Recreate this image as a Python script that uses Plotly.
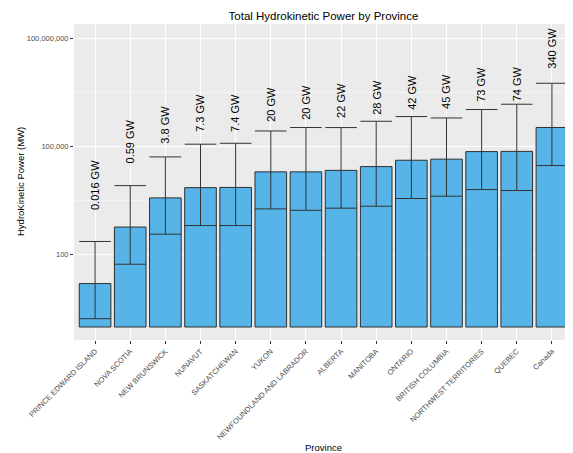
import numpy as np
import plotly.graph_objects as go

provinces = ["PRINCE EDWARD ISLAND", "NOVA SCOTIA", "NEW BRUNSWICK", "NUNAVUT",
             "SASKATCHEWAN", "YUKON", "NEWFOUNDLAND AND LABRADOR", "ALBERTA",
             "MANITOBA", "ONTARIO", "BRITISH COLUMBIA", "NORTHWEST TERRITORIES",
             "QUEBEC", "Canada"]
power_mw = [16, 590, 3800, 7300, 7400, 20000, 20000, 22000, 28000, 42000,
            45000, 73000, 74000, 340000]
lower_mw = [1.7, 55, 374, 650, 650, 1880, 1720, 1970, 2230, 3650,
            4230, 6460, 6080, 29900]
upper_mw = [235, 8300, 51900, 117000, 124000, 272000, 339000, 338000, 506000,
            682000, 624000, 1070000, 1500000, 5710000]
labels = ["0.016 GW", "0.59 GW", "3.8 GW", "7.3 GW", "7.4 GW", "20 GW", "20 GW",
          "22 GW", "28 GW", "42 GW", "45 GW", "73 GW", "74 GW", "340 GW"]
label_at_mw = [1550, 30500, 109000, 220000, 220000, 437000, 500000, 537000,
               661000, 912000, 977000, 1550000, 1620000, 13100000]

y_tickvals = [100, 100000, 100000000]
y_ticktext = ["100", "100,000", "100,000,000"]

FONT = "Liberation Sans, Arial, Helvetica, sans-serif"

# page body has an 8px margin: figure is drawn at (8, 8)
W, H = 565, 445
ML, MT, MB = 66, 16, 113
PW, PH = W - ML, H - MT - MB

fig = go.Figure()
fig.add_trace(go.Bar(
    x=provinces,
    y=[m - 1 for m in power_mw],
    base=1,
    width=0.9,
    marker=dict(color="#56B4E9", line=dict(color="#2f2f2f", width=1)),
    error_y=dict(type="data", symmetric=False,
                 array=[u - m for u, m in zip(upper_mw, power_mw)],
                 arrayminus=[m - l for m, l in zip(power_mw, lower_mw)],
                 color="#333333", thickness=1, width=15.8),
    showlegend=False,
))

annotations = []
for p, lab, pos in zip(provinces, labels, label_at_mw):
    annotations.append(dict(x=p, y=np.log10(pos), xref="x", yref="y", text=lab,
                            textangle=-90, showarrow=False, xanchor="center",
                            yanchor="bottom", font=dict(size=11, color="black", family=FONT)))

annotations.append(dict(x=0.5, y=-(439 - (MT + PH)) / PH, xref="paper", yref="paper",
                        text="Province", showarrow=False, xanchor="center", yanchor="middle",
                        font=dict(size=9.5, color="black", family=FONT)))
annotations.append(dict(x=(12 - ML) / PW, y=0.5, xref="paper", yref="paper",
                        text="HydroKinetic Power (MW)", textangle=-90, showarrow=False,
                        xanchor="center", yanchor="middle",
                        font=dict(size=9.5, color="black", family=FONT)))

fig.update_layout(
    width=W, height=H,
    margin=dict(l=ML, r=0, t=MT, b=MB, pad=0),
    paper_bgcolor="white", plot_bgcolor="#EBEBEB",
    font=dict(family=FONT),
    title=dict(text="Total Hydrokinetic Power by Province", x=0.5, xref="paper",
               xanchor="center", y=(H - 8) / H, yref="container", yanchor="middle",
               font=dict(size=11.5, color="black", family=FONT)),
    annotations=annotations,
    bargap=0.1,
)
fig.update_xaxes(type="category", range=[-0.6, 13.6], showgrid=True, gridcolor="white",
                 gridwidth=1, ticks="outside", ticklen=3, tickcolor="#333333",
                 tickangle=-45, tickfont=dict(size=7.5, color="#4D4D4D", family=FONT),
                 showline=False, zeroline=False, automargin=False)
fig.update_yaxes(type="log", range=[-0.36, 8.40], tickvals=y_tickvals, ticktext=y_ticktext,
                 showgrid=True, gridcolor="white", gridwidth=1, ticks="outside", ticklen=3,
                 tickcolor="#333333", tickfont=dict(size=7.5, color="#4D4D4D", family=FONT),
                 showline=False, zeroline=False, automargin=False,
                 minor=dict(tickvals=[10 ** 0.5, 10 ** 3.5, 10 ** 6.5], showgrid=True,
                            gridcolor="#F4F4F4", gridwidth=0.6, ticks=""))

fig.write_html("out.html")
